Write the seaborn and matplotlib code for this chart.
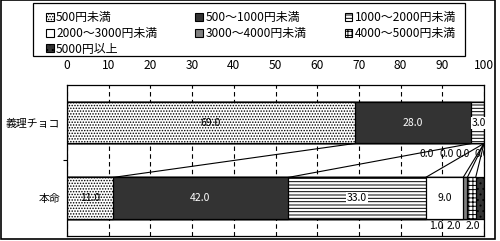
import matplotlib
matplotlib.use("Agg")
import matplotlib.pyplot as plt
import seaborn as sns
import pandas as pd
import numpy as np
from matplotlib.patches import Patch, Rectangle

# ---- data ----
categories = ["義理チョコ", "本命"]
series_names = ["500円未満", "500～1000円未満", "1000～2000円未満",
                "2000～3000円未満", "3000～4000円未満", "4000～5000円未満",
                "5000円以上"]
giri_values = [69.0, 28.0, 3.0, 0.0, 0.0, 0.0, 0.0]
honmei_values = [11.0, 42.0, 33.0, 9.0, 1.0, 2.0, 2.0]
x_ticks = [0, 10, 20, 30, 40, 50, 60, 70, 80, 90, 100]

# ---- styles ----
sns.set_theme(style="white")
plt.rcParams["font.family"] = ["Noto Sans CJK JP", "DejaVu Sans"]
plt.rcParams["hatch.linewidth"] = 0.7
FS = 8.6
YFS = 7.8
LFS = 7.5

styles = [
    dict(fc="white", hatch="......", hc="black"),
    dict(fc="#333333", hatch=None, hc="black"),
    dict(fc="white", hatch="-----", hc="black"),
    dict(fc="white", hatch=None, hc="black"),
    dict(fc="#808080", hatch=None, hc="black"),
    dict(fc="white", hatch="++++", hc="black"),
    dict(fc="#333333", hatch="...", hc="white"),
]

values = np.array([giri_values, honmei_values])  # (2, 7)
cums = np.cumsum(values, axis=1)

rows = []
for ci, cat in enumerate(categories):
    for si, name in enumerate(series_names):
        rows.append(dict(category=cat, series=name, value=values[ci, si],
                         cum=cums[ci, si]))
df = pd.DataFrame(rows)

fig = plt.figure(figsize=(5.0, 2.41), dpi=100)
ax = fig.add_axes([0.134, 0.0207, 0.834, 0.627])

BAR_W = 0.55
for si in range(len(series_names) - 1, -1, -1):
    st = styles[si]
    n0 = len(ax.patches)
    sub = df[df.series == series_names[si]]
    sns.barplot(data=sub, x="cum", y="category", order=categories, orient="h",
                color=st["fc"], saturation=1, width=BAR_W, errorbar=None,
                edgecolor="black", linewidth=0.9, ax=ax, zorder=2)
    for p in ax.patches[n0:]:
        p.set_facecolor(st["fc"])
        if st["hatch"]:
            p.set_hatch(st["hatch"])
            try:
                p.set_hatchcolor(st["hc"])
            except Exception:
                pass

# series lines
half = BAR_W / 2
for si in range(len(series_names) - 1):
    ax.plot([cums[0, si], cums[1, si]], [0 + half, 1 - half],
            color="black", lw=0.8, zorder=3)

# grid
ax.set_axisbelow(True)
ax.set_xlim(0, 100)
ax.set_ylim(1.5, -0.5)
ax.set_xticks(x_ticks)
ax.xaxis.grid(True, linestyle=(0, (4, 3)), color="black", lw=0.8)
ax.yaxis.grid(False)
ax.xaxis.tick_top()
ax.xaxis.set_label_position("top")
ax.tick_params(axis="x", length=0, pad=9, labelsize=FS, colors="black")
ax.set_yticks([0, 1])
ax.set_yticklabels(categories)
ax.set_yticks([0.5], minor=True)
ax.tick_params(axis="y", which="major", length=0, pad=5, labelsize=YFS,
               colors="black")
ax.tick_params(axis="y", which="minor", length=3, width=0.8, color="black",
               direction="out", left=True)
ax.set_xlabel("")
ax.set_ylabel("")
for s in ax.spines.values():
    s.set_color("black")
    s.set_linewidth(0.9)

# data labels
def lab(x, y, v, color="black", box=False, clip=False):
    kw = dict(ha="center", va="center", fontsize=LFS, color=color, zorder=5,
              clip_on=clip)
    if box:
        kw["bbox"] = dict(boxstyle="square,pad=0.1", fc="white", ec="none")
    ax.text(x, y, f"{v:.1f}", **kw)

centers = cums - values / 2
# 義理チョコ
lab(centers[0, 0], 0, values[0, 0])
lab(centers[0, 1], 0, values[0, 1], color="white")
lab(centers[0, 2] + 0.3, 0, values[0, 2], box=True)
zero_x = [86.3, 91.1, 95.0, 99.5]
for k, si in enumerate(range(3, 7)):
    lab(zero_x[k], 0.41, values[0, si], clip=True)
# 本命
lab(centers[1, 0], 1, values[1, 0])
lab(centers[1, 1], 1, values[1, 1], color="white")
lab(centers[1, 2], 1, values[1, 2], box=True)
lab(centers[1, 3], 1, values[1, 3])
small_x = [88.6, 92.8, 97.3]
for k, si in enumerate(range(4, 7)):
    lab(small_x[k], 1.37, values[1, si], clip=True)

# legend
handles = []
for si, name in enumerate(series_names):
    st = styles[si]
    h = Patch(facecolor=st["fc"], edgecolor="black", hatch=st["hatch"],
              linewidth=0.8, label=name)
    try:
        h.set_hatchcolor(st["hc"])
    except Exception:
        pass
    handles.append(h)
order = [0, 3, 6, 1, 4, 2, 5]
leg = fig.legend([handles[i] for i in order], [series_names[i] for i in order],
                 ncol=3, loc="upper left",
                 bbox_to_anchor=(46 / 500, 0.955, 410 / 500, 0.0),
                 mode="expand",
                 fontsize=FS, frameon=False,
                 handlelength=0.65, handleheight=0.65, handletextpad=0.2,
                 labelspacing=0.24, borderpad=0, borderaxespad=0)
for t in leg.get_texts():
    t.set_color("black")
# legend box
fig.patches.append(Rectangle((33 / 500, 1 - 56 / 241), 432 / 500, 53 / 241,
                             transform=fig.transFigure, fill=False,
                             edgecolor="black", lw=0.9))

# outer border
fig.patches.append(Rectangle((0.001, 0.008), 0.988, 0.99,
                             transform=fig.transFigure, fill=False,
                             edgecolor="black", lw=1.2))

fig.savefig("out.png", dpi=100)
